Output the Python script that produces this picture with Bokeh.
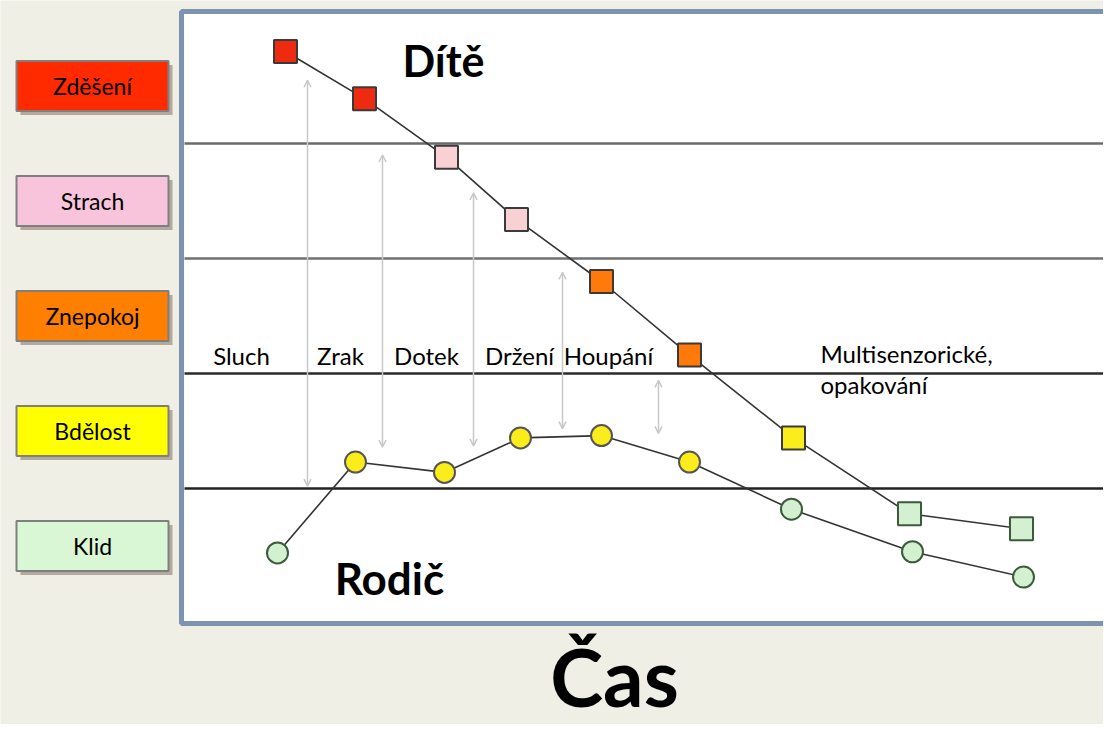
from bokeh.plotting import figure
from bokeh.models import Range1d, Arrow, OpenHead, Label, ColumnDataSource
from bokeh.embed import file_html
from bokeh.resources import INLINE
from bokeh.core.properties import value

# ---- data ----
levels = ["Klid", "Bdělost", "Znepokoj", "Strach", "Zděšení"]
level_box_colors = ["#d9f7d5", "#ffff00", "#ff7f00", "#f8c4dc", "#ff2a00"]
level_marker_colors = ["#d3f0d0", "#fbec1c", "#ff7a0a", "#f9d0d4", "#ee2a10"]
level_boundaries = [1, 2, 3, 4]
boundary_colors = ["#222222", "#2a2a2a", "#707070", "#6a6a6a"]

stages = ["Sluch", "Zrak", "Dotek", "Držení", "Houpání"]
stage_t = [0.63, 1.62, 2.48, 3.41, 4.30]
stage_level = 2.16
multi_lines = ["Multisenzorické,", "opakování"]
multi_t = 6.42
multi_level = [2.17, 1.90]

child_t = [1.07, 1.86, 2.68, 3.38, 4.23, 5.11, 6.15, 7.31, 8.43]
child_level = [4.80, 4.39, 3.88, 3.34, 2.80, 2.16, 1.44, 0.78, 0.65]

parent_t = [0.99, 1.77, 2.66, 3.42, 4.23, 5.11, 6.13, 7.34, 8.45]
parent_level = [0.44, 1.23, 1.14, 1.44, 1.46, 1.23, 0.82, 0.45, 0.23]

arrow_t = [1.29, 2.04, 2.95, 3.84, 4.80]
arrow_top = [4.55, 3.90, 3.57, 2.88, 1.94]
arrow_bottom = [1.02, 1.36, 1.37, 1.52, 1.48]

FONT = "Lato"

p = figure(width=1103, height=724, title=None, output_backend="svg",
           toolbar_location=None, x_range=Range1d(-1.78, 9.25),
           y_range=Range1d(-1.0522, 5.2435), min_border=0)
p.axis.visible = False
p.grid.visible = False
p.outline_line_color = None
p.background_fill_color = "#efefe6"
p.border_fill_color = "#efefe6"

# plot frame
p.quad(left=[0.03], right=[9.6], top=[5.148], bottom=[-0.174],
       fill_color="white", line_color="#7d94b0", line_width=5)

# level boundaries
p.segment(x0=[0.06] * len(level_boundaries), x1=[9.5] * len(level_boundaries),
          y0=level_boundaries, y1=level_boundaries,
          line_color=boundary_colors, line_width=2.5)

# level label boxes
centers = [i + 0.5 for i in range(len(levels))]
half_h = 0.217
p.quad(left=[-1.58] * 5, right=[-0.06] * 5,
       top=[c + half_h - 0.035 for c in centers],
       bottom=[c - half_h - 0.035 for c in centers],
       fill_color="#8a7a70", fill_alpha=0.6, line_color=None)
p.quad(left=[-1.62] * 5, right=[-0.10] * 5,
       top=[c + half_h for c in centers], bottom=[c - half_h for c in centers],
       fill_color=level_box_colors, line_color="#7f7f7f", line_width=2)
p.text(x=[-0.86] * 5, y=centers, text=levels, text_align="center",
       text_baseline="middle", text_font=value(FONT),
       text_font_size=value("23px"), text_color="black")

# arrows
asrc = ColumnDataSource(dict(x0=arrow_t, y0=arrow_bottom, x1=arrow_t, y1=arrow_top))
p.add_layout(Arrow(source=asrc, x_start="x0", y_start="y0", x_end="x1", y_end="y1",
                   line_color="#c8c8c8", line_width=1.5,
                   start=OpenHead(size=7, line_color="#c8c8c8", line_width=1.5),
                   end=OpenHead(size=7, line_color="#c8c8c8", line_width=1.5)))

# series lines
p.line(child_t, child_level, line_color="#333333", line_width=1.6)
p.line(parent_t, parent_level, line_color="#333333", line_width=1.6)

def level_color(v):
    return level_marker_colors[min(int(v), len(levels) - 1)]

child_colors = [level_color(v) for v in child_level]
parent_colors = [level_color(v) for v in parent_level]
child_lines = ["#3d5a3d" if int(v) == 0 else "#3a3a3a" for v in child_level]
parent_lines = ["#3d5a3d" if int(v) == 0 else "#555555" for v in parent_level]

p.scatter(child_t, child_level, marker="square", size=23, fill_color=child_colors,
          line_color=child_lines, line_width=2)
p.scatter(parent_t, parent_level, marker="circle", size=21, fill_color=parent_colors,
          line_color=parent_lines, line_width=2)

# stage labels
p.text(x=stage_t, y=[stage_level] * len(stages), text=stages, text_align="center",
       text_baseline="middle", text_font=value(FONT),
       text_font_size=value("24px"), text_color="black")
p.text(x=[multi_t] * 2, y=multi_level, text=multi_lines, text_align="left",
       text_baseline="middle", text_font=value(FONT),
       text_font_size=value("24px"), text_color="black")

# titles
p.add_layout(Label(x=2.65, y=4.72, text="Dítě", text_align="center",
                   text_baseline="middle", text_font=FONT, text_font_style="bold",
                   text_font_size="43px", text_color="black"))
p.add_layout(Label(x=2.11, y=0.22, text="Rodič", text_align="center",
                   text_baseline="middle", text_font=FONT, text_font_style="bold",
                   text_font_size="44px", text_color="black"))
p.add_layout(Label(x=4.36, y=-1.045, text="Čas", text_align="center",
                   text_baseline="bottom", text_font=FONT, text_font_style="bold",
                   text_font_size="80px", text_color="black"))

open("out.html", "w").write(file_html(p, INLINE))
